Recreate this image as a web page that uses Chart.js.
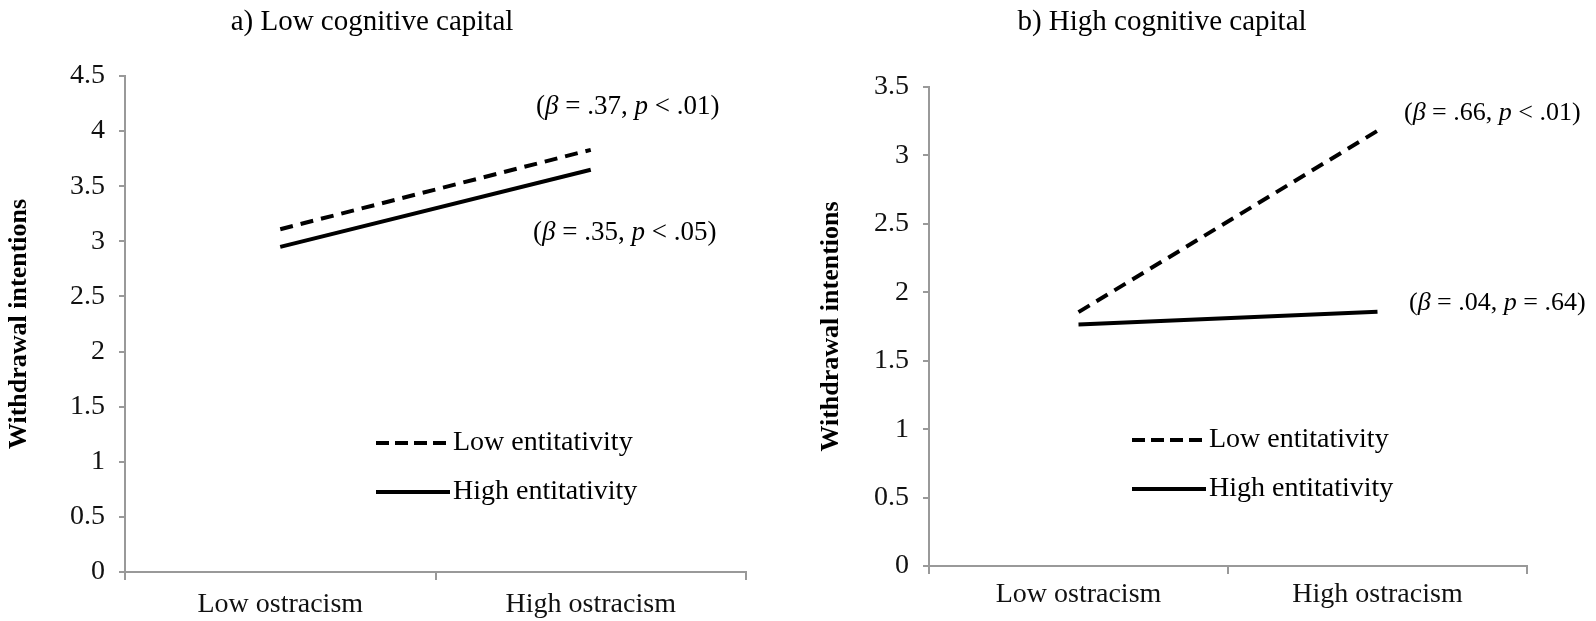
<!DOCTYPE html>
<html>
<head>
<meta charset="utf-8">
<script src="https://cdn.jsdelivr.net/npm/chart.js@4/dist/chart.umd.min.js"></script>
<style>
  body { margin: 0; background: #fff; }
  canvas { position: absolute; top: 0; }
</style>
</head>
<body>
<canvas id="left" width="798" height="621" style="left:0"></canvas>
<canvas id="right" width="798" height="621" style="left:798px"></canvas>
<script>
const categories = ['Low ostracism', 'High ostracism'];
const seriesNames = ['Low entitativity', 'High entitativity'];
const yTitle = 'Withdrawal intentions';

// a) low cognitive capital
const lowCapLowEnt = [3.11, 3.83];
const lowCapHighEnt = [2.95, 3.65];
const lowCapTicks = { max: 4.5, step: 0.5 };
const lowCapNotes = ['(β = .37, p < .01)', '(β = .35, p < .05)'];

// b) high cognitive capital
const highCapLowEnt = [1.855, 3.18];
const highCapHighEnt = [1.765, 1.858];
const highCapTicks = { max: 3.5, step: 0.5 };
const highCapNotes = ['(β = .66, p < .01)', '(β = .04, p = .64)'];

const panelTitles = ['a) Low cognitive capital', 'b) High cognitive capital'];

const SERIF = '"Liberation Serif", "Times New Roman", serif';

function drawNote(ctx, text, x, y, size) {
  let cx = x;
  for (const ch of text) {
    const italic = ch === 'β' || ch === 'p';
    ctx.font = (italic ? 'italic ' : '') + size + 'px ' + SERIF;
    ctx.fillText(ch, cx, y);
    cx += ctx.measureText(ch).width;
  }
}

function makePanel(id, title, lowEnt, highEnt, ticks, notes, lay) {
  const extras = {
    id: 'extras',
    afterDraw(chart) {
      const ctx = chart.ctx;
      ctx.save();
      ctx.fillStyle = '#000';
      ctx.textBaseline = 'middle';
      // panel title
      ctx.textAlign = 'center';
      ctx.font = '29px ' + SERIF;
      ctx.fillText(title, lay.titleX, 22);
      // beta notes
      ctx.textAlign = 'left';
      notes.forEach((n, i) => drawNote(ctx, n, lay.notes[i][0], lay.notes[i][1], lay.noteSize));
      // legend
      chart.data.datasets.forEach((ds, i) => {
        const y = lay.legendY[i];
        ctx.beginPath();
        ctx.lineWidth = ds.borderWidth;
        ctx.strokeStyle = ds.borderColor;
        ctx.setLineDash(ds.legendDash || []);
        ctx.moveTo(lay.legendX, y);
        ctx.lineTo(lay.legendX + 74, y);
        ctx.stroke();
        ctx.setLineDash([]);
        ctx.font = '28px ' + SERIF;
        ctx.fillText(ds.label, lay.legendX + 77, y);
      });
      ctx.restore();
    }
  };

  return new Chart(document.getElementById(id), {
    type: 'line',
    data: {
      labels: categories,
      datasets: [
        { label: seriesNames[0], data: lowEnt, borderColor: '#000', borderWidth: 4,
          borderDash: [13, 8], legendDash: [13, 6], pointRadius: 0, fill: false },
        { label: seriesNames[1], data: highEnt, borderColor: '#000', borderWidth: 4,
          pointRadius: 0, fill: false }
      ]
    },
    options: {
      responsive: false,
      animation: false,
      layout: { padding: { top: lay.top, right: lay.right, bottom: 0, left: 0 } },
      plugins: { legend: { display: false }, tooltip: { enabled: false } },
      scales: {
        x: {
          offset: true,
          afterFit: s => { s.height = lay.xHeight; },
          border: { color: '#999', width: 2 },
          grid: { offset: true, drawOnChartArea: false, tickLength: 8, color: '#999', lineWidth: 2 },
          ticks: { color: '#111', padding: lay.xPad, font: { family: SERIF, size: 28 } }
        },
        y: {
          min: 0,
          max: ticks.max,
          afterFit: s => { s.width = lay.yWidth; },
          border: { color: '#999', width: 2 },
          grid: { drawOnChartArea: false, tickLength: 6, color: '#999', lineWidth: 2 },
          ticks: { stepSize: ticks.step, color: '#111', padding: 14, font: { family: SERIF, size: 28 },
                   callback: v => String(v) },
          title: { display: true, text: yTitle, color: '#000', padding: { top: lay.yTitlePad, bottom: 0 },
                   font: { family: SERIF, size: 26, weight: 'bold' } }
        }
      }
    },
    plugins: [extras]
  });
}

makePanel('left', panelTitles[0], lowCapLowEnt, lowCapHighEnt, lowCapTicks, lowCapNotes, {
  top: 76, right: 52, xHeight: 49, yWidth: 125, xPad: 8, yTitlePad: 4,
  titleX: 372, notes: [[536, 107], [533, 233]], noteSize: 27,
  legendX: 376, legendY: [443, 492]
});

makePanel('right', panelTitles[1], highCapLowEnt, highCapHighEnt, highCapTicks, highCapNotes, {
  top: 87, right: 69, xHeight: 55, yWidth: 131, xPad: 4, yTitlePad: 18,
  titleX: 364, notes: [[606, 113], [611, 303]], noteSize: 26,
  legendX: 334, legendY: [440, 489]
});
</script>
</body>
</html>
